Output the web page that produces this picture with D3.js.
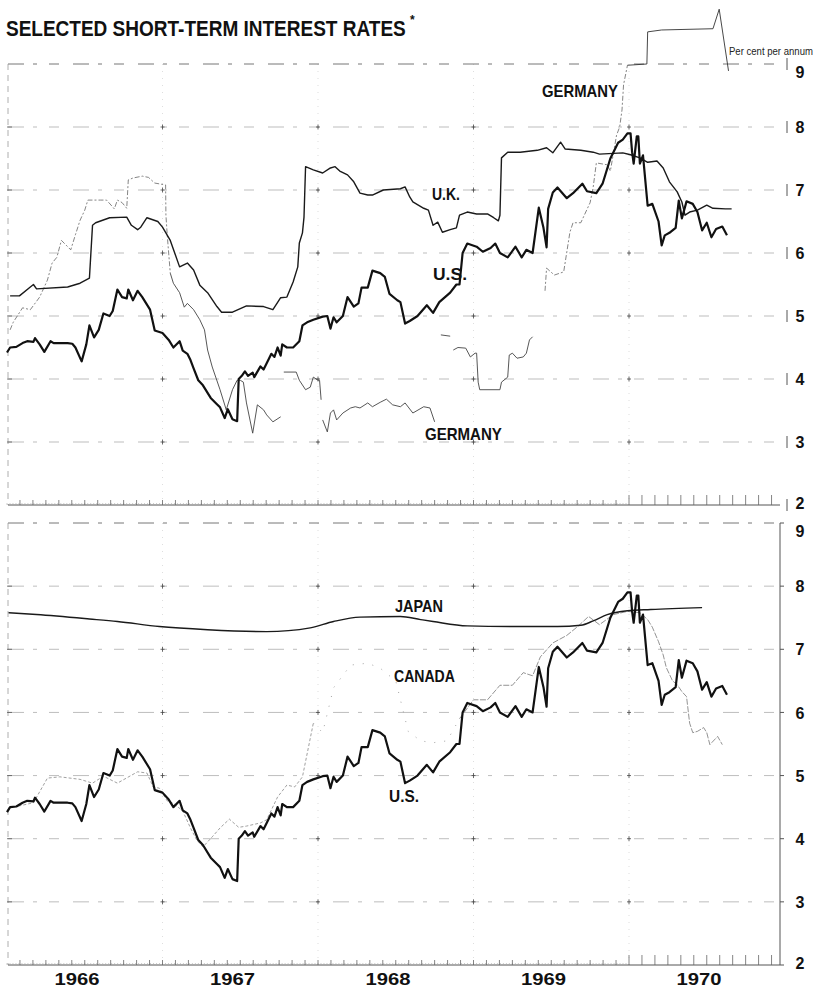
<!DOCTYPE html>
<html>
<head>
<meta charset="utf-8">
<script src="https://cdn.jsdelivr.net/npm/d3@7"></script>
<style>
  body { margin: 0; background: #fff; }
  svg text { font-family: "Liberation Sans Narrow", "Liberation Sans", Arial, sans-serif; font-weight: bold; fill: #111; }
</style>
</head>
<body>
<div id="chart"></div>
<script>
// ---- data (decimal year, per cent per annum); null breaks a line ----
var years = [1966, 1967, 1968, 1969, 1970];
var rateTicks = [2, 3, 4, 5, 6, 7, 8, 9];

var usRate = [
  [1966.00,4.42],[1966.02,4.50],[1966.06,4.51],[1966.10,4.57],[1966.13,4.60],[1966.17,4.59],[1966.18,4.65],
  [1966.21,4.55],[1966.24,4.43],[1966.28,4.60],[1966.30,4.57],[1966.39,4.57],[1966.42,4.56],[1966.44,4.50],
  [1966.48,4.28],[1966.51,4.55],[1966.53,4.85],[1966.56,4.66],[1966.59,4.78],[1966.62,5.04],[1966.64,5.02],
  [1966.66,5.00],[1966.68,5.08],[1966.71,5.42],[1966.74,5.30],[1966.77,5.28],[1966.78,5.42],[1966.81,5.25],
  [1966.84,5.40],[1966.87,5.30],[1966.92,5.10],[1966.95,4.77],[1967.00,4.73],[1967.04,4.62],[1967.07,4.50],
  [1967.11,4.60],[1967.13,4.45],[1967.16,4.40],[1967.18,4.30],[1967.20,4.17],[1967.23,3.98],[1967.26,3.90],
  [1967.31,3.70],[1967.35,3.60],[1967.37,3.55],[1967.40,3.38],[1967.42,3.52],[1967.45,3.36],[1967.48,3.33],
  [1967.49,4.00],[1967.51,4.05],[1967.53,4.12],[1967.55,4.05],[1967.58,4.10],[1967.59,4.03],[1967.63,4.20],
  [1967.65,4.15],[1967.67,4.25],[1967.70,4.40],[1967.72,4.35],[1967.74,4.50],[1967.76,4.37],[1967.77,4.55],
  [1967.80,4.50],[1967.84,4.50],[1967.88,4.60],[1967.90,4.85],[1967.93,4.90],[1967.97,4.94],[1968.03,4.99],
  [1968.06,5.00],[1968.08,4.80],[1968.10,4.98],[1968.12,4.90],[1968.16,5.00],[1968.19,5.30],[1968.23,5.15],
  [1968.26,5.20],[1968.28,5.45],[1968.32,5.45],[1968.35,5.72],[1968.40,5.68],[1968.43,5.62],[1968.46,5.35],
  [1968.51,5.25],[1968.53,5.22],[1968.56,4.88],[1968.59,4.92],[1968.64,5.00],[1968.70,5.17],[1968.74,5.05],
  [1968.78,5.22],[1968.85,5.37],[1968.89,5.50],[1968.91,5.50],[1968.93,6.00],[1968.96,6.15],[1969.02,6.10],
  [1969.06,6.02],[1969.11,6.08],[1969.14,6.15],[1969.17,6.00],[1969.22,5.93],[1969.27,6.10],[1969.31,5.93],
  [1969.34,6.05],[1969.38,6.00],[1969.42,6.72],[1969.45,6.40],[1969.47,6.09],[1969.48,6.70],[1969.51,6.96],
  [1969.54,7.04],[1969.60,6.87],[1969.64,6.95],[1969.70,7.10],[1969.73,6.98],[1969.79,6.95],[1969.83,7.10],
  [1969.88,7.50],[1969.93,7.75],[1969.96,7.80],[1969.99,7.90],[1970.01,7.90],[1970.02,7.60],[1970.03,7.42],
  [1970.05,7.85],[1970.06,7.85],[1970.07,7.42],[1970.09,7.55],[1970.12,6.75],[1970.15,6.78],[1970.19,6.50],
  [1970.21,6.12],[1970.23,6.28],[1970.26,6.32],[1970.30,6.40],[1970.32,6.83],[1970.34,6.55],[1970.37,6.82],
  [1970.41,6.78],[1970.44,6.65],[1970.47,6.36],[1970.50,6.48],[1970.53,6.25],[1970.56,6.38],[1970.60,6.42],
  [1970.63,6.28]
];

var ukRate = [
  [1966.02,5.32],[1966.08,5.32],[1966.15,5.46],[1966.17,5.50],[1966.19,5.43],[1966.39,5.46],[1966.47,5.52],
  [1966.53,5.60],[1966.55,6.44],[1966.57,6.48],[1966.66,6.56],[1966.77,6.57],[1966.80,6.44],[1966.84,6.37],
  [1966.86,6.41],[1966.90,6.56],[1966.97,6.50],[1967.00,6.41],[1967.05,6.20],[1967.11,5.78],[1967.16,5.84],
  [1967.20,5.73],[1967.24,5.49],[1967.29,5.37],[1967.35,5.15],[1967.38,5.06],[1967.45,5.06],[1967.54,5.16],
  [1967.65,5.15],[1967.71,5.10],[1967.76,5.29],[1967.80,5.30],[1967.84,5.54],[1967.87,5.78],[1967.88,6.16],
  [1967.90,6.32],[1967.91,6.57],[1967.92,7.37],[1967.97,7.32],[1968.03,7.27],[1968.08,7.35],[1968.11,7.37],
  [1968.14,7.30],[1968.19,7.24],[1968.23,7.13],[1968.27,6.95],[1968.32,6.92],[1968.35,6.92],[1968.42,7.00],
  [1968.53,7.02],[1968.56,7.05],[1968.59,6.89],[1968.61,6.81],[1968.68,6.71],[1968.71,6.68],[1968.74,6.44],
  [1968.77,6.49],[1968.80,6.33],[1968.85,6.37],[1968.89,6.40],[1968.91,6.60],[1968.96,6.65],[1969.02,6.62],
  [1969.09,6.62],[1969.13,6.56],[1969.16,6.51],[1969.17,6.60],[1969.18,7.51],[1969.22,7.60],[1969.30,7.60],
  [1969.41,7.63],[1969.47,7.67],[1969.51,7.59],[1969.56,7.76],[1969.59,7.65],[1969.69,7.63],[1969.77,7.60],
  [1969.81,7.57],[1969.96,7.59],[1970.01,7.56],[1970.07,7.51],[1970.12,7.44],[1970.18,7.46],[1970.22,7.35],
  [1970.26,7.13],[1970.31,6.97],[1970.34,6.81],[1970.36,6.60],[1970.39,6.65],[1970.44,6.68],[1970.50,6.76],
  [1970.54,6.71],[1970.62,6.70],[1970.66,6.70]
];

var germanyRate = [
  [1966.02,4.78],[1966.04,4.90],[1966.10,5.13],[1966.15,5.10],[1966.21,5.30],[1966.26,5.57],[1966.29,5.84],
  [1966.32,5.93],[1966.35,6.20],[1966.39,6.10],[1966.41,6.05],[1966.44,6.29],[1966.47,6.52],[1966.50,6.68],
  [1966.52,6.84],[1966.60,6.84],[1966.64,6.84],[1966.68,6.73],[1966.69,6.70],[1966.71,6.84],[1966.74,6.80],
  [1966.77,6.71],[1966.78,7.16],[1966.81,7.19],[1966.87,7.22],[1966.91,7.20],[1966.95,7.11],[1967.02,7.08],
  [1967.022,6.60],[1967.03,6.30],[1967.05,5.68],[1967.07,5.52],[1967.11,5.37],[1967.14,5.14],[1967.16,5.20],
  [1967.20,5.10],[1967.24,4.94],[1967.27,4.78],[1967.29,4.46],[1967.32,4.19],[1967.37,3.83],[1967.41,3.51],
  [1967.45,3.83],[1967.48,3.98],[1967.50,3.98],[1967.52,3.95],[1967.54,3.62],[1967.58,3.14],[1967.61,3.59],
  [1967.65,3.51],[1967.67,3.43],[1967.71,3.32],[1967.76,3.40],[1967.765,null],
  [1967.78,4.11],[1967.86,4.11],[1967.88,3.98],[1967.92,3.83],[1967.95,3.87],[1967.97,4.03],[1968.00,3.98],
  [1968.01,3.98],[1968.02,3.67],[1968.025,null],
  [1968.03,3.35],[1968.06,3.16],[1968.08,3.46],[1968.10,3.51],[1968.12,3.35],[1968.16,3.46],[1968.21,3.54],
  [1968.24,3.56],[1968.27,3.54],[1968.32,3.62],[1968.35,3.56],[1968.40,3.63],[1968.44,3.68],[1968.48,3.59],
  [1968.53,3.56],[1968.56,3.62],[1968.61,3.46],[1968.68,3.56],[1968.72,3.54],[1968.75,3.32],[1968.76,null],
  [1968.79,4.70],[1968.85,4.68],[1968.86,null],
  [1968.87,4.46],[1968.90,4.50],[1968.95,4.49],[1968.98,4.35],[1969.01,4.41],[1969.02,4.41],[1969.03,3.95],
  [1969.04,3.83],[1969.17,3.83],[1969.18,3.95],[1969.22,4.03],[1969.23,4.38],[1969.25,4.41],[1969.28,4.33],
  [1969.32,4.35],[1969.34,4.41],[1969.36,4.62],[1969.38,4.67],[1969.39,null],
  [1969.46,5.40],[1969.47,5.76],[1969.52,5.65],[1969.58,5.70],[1969.62,6.33],[1969.64,6.48],[1969.69,6.48],
  [1969.75,6.80],[1969.77,7.05],[1969.79,7.43],[1969.86,7.40],[1969.88,7.30],[1969.92,7.87],[1969.94,8.00],
  [1969.955,8.27],[1969.965,8.67],[1969.99,8.98],[1970.115,9.00],[1970.12,9.51],[1970.21,9.54],[1970.54,9.56],
  [1970.58,9.87],[1970.64,8.89]
];

var canadaRate = [
  [1966.01,4.49],[1966.08,4.52],[1966.17,4.57],[1966.26,4.96],[1966.34,4.98],[1966.47,4.94],[1966.55,4.88],
  [1966.62,4.99],[1966.71,4.88],[1966.84,5.06],[1966.90,5.04],[1966.94,4.82],[1966.98,4.80],[1967.03,4.60],
  [1967.07,4.56],[1967.13,4.44],[1967.18,4.17],[1967.22,3.98],[1967.26,3.87],[1967.32,4.03],[1967.37,4.17],
  [1967.43,4.31],[1967.49,4.18],[1967.54,4.20],[1967.63,4.25],[1967.67,4.30],[1967.74,4.66],[1967.80,4.85],
  [1967.85,4.82],[1967.90,4.98],[1967.97,5.83],[1968.03,5.68],[1968.10,6.39],[1968.21,6.75],[1968.32,6.78],
  [1968.40,6.70],[1968.50,6.50],[1968.58,5.70],[1968.66,5.55],[1968.74,5.52],[1968.83,5.55],[1968.91,5.90],
  [1969.00,6.20],[1969.09,6.20],[1969.17,6.43],[1969.25,6.43],[1969.32,6.63],[1969.38,6.58],[1969.43,6.88],
  [1969.51,7.10],[1969.60,7.22],[1969.67,7.36],[1969.74,7.52],[1969.81,7.39],[1969.90,7.55],[1969.99,7.60],
  [1970.07,7.58],[1970.12,7.47],[1970.15,7.35],[1970.19,7.12],[1970.22,6.91],[1970.24,6.71],[1970.28,6.50],
  [1970.31,6.44],[1970.34,6.33],[1970.37,6.25],[1970.39,5.83],[1970.41,5.68],[1970.44,5.70],[1970.48,5.76],
  [1970.50,5.68],[1970.52,5.49],[1970.57,5.62],[1970.60,5.49]
];

var japanRate = [
  [1966.01,7.58],[1966.19,7.55],[1966.53,7.48],[1966.71,7.44],[1966.98,7.36],[1967.29,7.31],[1967.67,7.28],
  [1967.95,7.34],[1968.10,7.44],[1968.27,7.51],[1968.53,7.52],[1968.66,7.47],[1968.74,7.44],[1968.96,7.37],
  [1969.28,7.36],[1969.54,7.36],[1969.69,7.38],[1969.77,7.45],[1969.86,7.55],[1969.99,7.61],[1970.14,7.63],
  [1970.47,7.66]
];

// ---- layout ----
var svg = d3.select("#chart")
  .append("svg")
    .attr("width", 817)
    .attr("height", 992);

var x = d3.scaleLinear().domain([1966, 1971]).range([7, 784.5]);
var left = 8, right = 780;
var yTop = d3.scaleLinear().domain([2, 9]).range([505, 64]);
var yBot = d3.scaleLinear().domain([2, 9]).range([965, 523]);

function drawPanel(y, solidRight) {
  var g = svg.append("g");

  // faint vertical year lines
  g.selectAll(".yr")
    .data(years.slice(1))
    .enter().append("line")
      .attr("x1", function(d) { return x(d); })
      .attr("x2", function(d) { return x(d); })
      .attr("y1", y(9)).attr("y2", y(2))
      .style("stroke", "#c8c8c8").style("stroke-width", 0.6)
      .style("stroke-dasharray", "1 6");

  // broken horizontal gridlines
  g.selectAll(".grid")
    .data(rateTicks.slice(1))
    .enter().append("line")
      .attr("x1", left).attr("x2", right)
      .attr("y1", function(d) { return y(d); })
      .attr("y2", function(d) { return y(d); })
      .style("stroke", function(d) { return d == 9 ? "#777" : "#a0a0a0"; })
      .style("stroke-width", function(d) { return d == 9 ? 1 : 0.7; })
      .style("stroke-dasharray", "16 9 4 12 10 14");

  // little crosses where year lines meet gridlines
  var cross = [];
  years.slice(1).forEach(function(yr) {
    rateTicks.slice(1, -1).forEach(function(r) { cross.push([yr, r]); });
  });
  g.selectAll(".cross")
    .data(cross)
    .enter().append("path")
      .attr("d", function(d) {
        var cx = x(d[0]), cy = y(d[1]);
        return "M" + (cx - 2) + "," + cy + "H" + (cx + 2) + "M" + cx + "," + (cy - 2.5) + "V" + (cy + 2.5);
      })
      .style("stroke", "#444").style("stroke-width", 0.8);

  // left edge
  g.append("line")
    .attr("x1", left).attr("x2", left).attr("y1", y(9)).attr("y2", y(2))
    .style("stroke", "#999").style("stroke-width", 0.8).style("stroke-dasharray", "6 5");
  g.selectAll(".lt")
    .data(rateTicks.slice(1, -1))
    .enter().append("line")
      .attr("x1", left - 1).attr("x2", left + 4)
      .attr("y1", function(d) { return y(d); })
      .attr("y2", function(d) { return y(d); })
      .style("stroke", "#555").style("stroke-width", 0.8);

  // bottom edge with weekly / monthly ticks
  g.append("line")
    .attr("x1", left).attr("x2", right).attr("y1", y(2)).attr("y2", y(2))
    .style("stroke", "#555").style("stroke-width", 1);
  var weeks = d3.range(1966, 1970, 1 / 52);
  g.selectAll(".wk")
    .data(weeks)
    .enter().append("line")
      .attr("x1", function(d) { return x(d); })
      .attr("x2", function(d) { return x(d); })
      .attr("y1", y(2)).attr("y2", y(2) - 2)
      .style("stroke", "#aaa").style("stroke-width", 0.6);
  var months = d3.range(1966 + 1 / 12, 1970.93, 1 / 12);
  g.selectAll(".mo")
    .data(months)
    .enter().append("line")
      .attr("x1", function(d) { return x(d); })
      .attr("x2", function(d) { return x(d); })
      .attr("y1", y(2))
      .attr("y2", function(d) { return y(2) - (d >= 1970 ? 10 : 5); })
      .style("stroke", "#666").style("stroke-width", 0.8);

  // right edge
  if (solidRight) {
    g.append("line")
      .attr("x1", right).attr("x2", right).attr("y1", y(9)).attr("y2", y(2))
      .style("stroke", "#555").style("stroke-width", 1);
  }
  g.selectAll(".rt")
    .data(rateTicks)
    .enter().append("line")
      .attr("x1", solidRight ? right : 787)
      .attr("x2", solidRight ? right + 4 : 787)
      .attr("y1", function(d) { return solidRight ? y(d) : y(d) - 6; })
      .attr("y2", function(d) { return solidRight ? y(d) : y(d) + 6; })
      .style("stroke", "#555").style("stroke-width", 1);

  // right-hand rate labels
  var axis = d3.axisRight(y).tickValues(rateTicks).tickSize(0).tickPadding(0)
    .tickFormat(d3.format("d"));
  var ax = g.append("g").attr("transform", "translate(800,0)").call(axis);
  ax.select(".domain").remove();
  ax.selectAll("text")
    .attr("x", 0)
    .attr("dy", function(d) { return d == 9 ? "0.85em" : (d == 2 ? "0.2em" : "0.35em"); })
    .style("text-anchor", "middle")
    .style("font-size", "16px")
    .style("font-family", "'Liberation Sans', Arial, sans-serif")
    .style("font-weight", "bold")
    .style("fill", "#111");
  return g;
}

drawPanel(yTop, false);
drawPanel(yBot, true);

// draw a series, optionally only inside [from, to] (the print is faint in places)
function drawLine(data, y, width, color, opts) {
  opts = opts || {};
  var from = opts.from == null ? -Infinity : opts.from;
  var to = opts.to == null ? Infinity : opts.to;
  svg.append("path")
    .datum(data)
    .attr("d", d3.line()
      .defined(function(d) { return d[1] != null && d[0] >= from && d[0] <= to; })
      .x(function(d) { return x(d[0]); })
      .y(function(d) { return y(d[1]); })
      .curve(opts.curve || d3.curveLinear))
    .style("fill", "none")
    .style("stroke", color)
    .style("stroke-width", width)
    .style("stroke-dasharray", opts.dash || null)
    .style("stroke-linejoin", "round");
}

// top panel
drawLine(germanyRate, yTop, 0.8, "#666", { to: 1967.05, dash: "5 2 2 2" });
drawLine(germanyRate, yTop, 0.9, "#444", { from: 1967.05, to: 1969.46 });
drawLine(germanyRate, yTop, 0.8, "#666", { from: 1969.46, to: 1969.99, dash: "5 2 2 2" });
drawLine(germanyRate, yTop, 0.9, "#333", { from: 1969.99 });
drawLine(ukRate, yTop, 1.4, "#1a1a1a");
drawLine(usRate, yTop, 2.2, "#111");

// bottom panel
drawLine(canadaRate, yBot, 0.8, "#888", { to: 1967.97, dash: "3 2" });
drawLine(canadaRate, yBot, 0.9, "#999", { from: 1967.97, to: 1968.91, dash: "1 9" });
drawLine(canadaRate, yBot, 0.8, "#777", { from: 1968.91, dash: "6 1.5" });
drawLine(japanRate, yBot, 1.4, "#1a1a1a", { curve: d3.curveMonotoneX });
drawLine(usRate, yBot, 2.2, "#111");

// ---- texts: squeeze each to the width it has in the print ----
function fitText(txt, x0, base, size, width, anchor, weight) {
  var t = svg.append("text")
    .attr("text-anchor", anchor || "start")
    .style("font-size", size + "px")
    .style("font-weight", weight || "bold")
    .text(txt);
  var w = t.node().getComputedTextLength();
  t.attr("transform", "translate(" + x0 + "," + base + ") scale(" + (width / w) + ",1)");
  return t;
}

fitText("SELECTED SHORT-TERM INTEREST RATES", 6, 36, 22, 400);
svg.append("text").attr("x", 410).attr("y", 24).style("font-size", "12px").text("*");

fitText("Per cent per annum", 729, 55, 11, 84, "start", "normal").style("fill", "#222");

fitText("GERMANY", 542, 97, 16, 76);
fitText("U.K.", 432, 200, 16, 28);
fitText("U.S.", 433, 280, 16, 34);
fitText("GERMANY", 425, 440, 16, 77);
fitText("JAPAN", 395, 612, 16, 48);
fitText("CANADA", 394, 682, 16, 61);
fitText("U.S.", 389, 802, 16, 30);

years.forEach(function(yr) {
  fitText(String(yr), x(yr + 0.45), 985, 17, 45, "middle");
});
</script>
</body>
</html>
